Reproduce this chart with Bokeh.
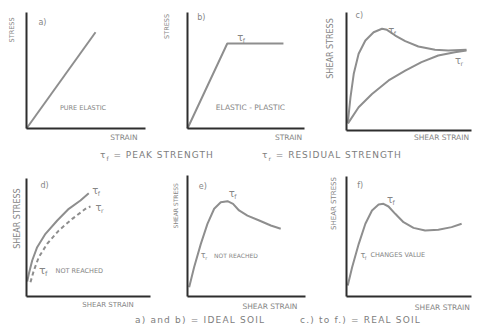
from bokeh.plotting import figure
from bokeh.models import LinearAxis, Range1d, Div, FixedTicker
from bokeh.layouts import row, column
from bokeh.embed import file_html
from bokeh.resources import INLINE
from bokeh.core.properties import value
import math

FONT = "DejaVu Sans"
LINE = "#8e8e8e"
AXIS = "#2e2e2e"
TEXT = "#858585"

# ---------------- data (strain, stress in arbitrary units, axes 0..10) ----------------
a_strain = [0.0, 5.8]
a_stress = [0.0, 8.3]

b_strain = [0.0, 3.4, 8.2]
b_stress = [0.0, 7.33, 7.33]

c_peak_strain = [0.1, 0.32, 0.58, 0.97, 1.51, 2.17, 2.84, 3.24, 3.9, 4.7, 5.75, 7.08, 8.14, 9.6]
c_peak_stress = [0.6, 2.82, 4.8, 6.5, 7.63, 8.33, 8.62, 8.53, 8.05, 7.57, 7.12, 6.84, 6.78, 6.84]
c_res_strain = [0.12, 0.97, 2.04, 3.37, 4.7, 6.0, 7.34, 8.66, 9.6]
c_res_stress = [0.6, 1.97, 3.1, 4.24, 5.08, 5.79, 6.36, 6.64, 6.78]

d_peak_strain = [0.06, 0.19, 0.46, 0.86, 1.53, 2.48, 3.41, 4.35, 5.02]
d_peak_stress = [1.27, 1.92, 3.05, 4.18, 5.31, 6.44, 7.43, 8.14, 8.75]
d_res_strain = [0.32, 0.59, 0.99, 1.67, 2.6, 3.69, 4.76, 5.16]
d_res_stress = [1.21, 2.2, 3.33, 4.47, 5.59, 6.58, 7.43, 7.63]

e_strain = [0.14, 0.56, 1.13, 1.69, 2.26, 2.82, 3.39, 3.86, 4.37, 5.08, 6.08, 7.06, 7.9]
e_stress = [0.77, 2.42, 4.35, 6.0, 7.25, 7.79, 7.88, 7.66, 7.11, 6.69, 6.28, 5.87, 5.6]

f_strain = [0.1, 0.45, 0.98, 1.51, 2.04, 2.57, 2.96, 3.36, 3.9, 4.56, 5.36, 6.29, 7.35, 8.41, 9.21]
f_stress = [0.92, 2.44, 4.39, 6.06, 7.17, 7.67, 7.72, 7.5, 6.89, 6.19, 5.72, 5.5, 5.56, 5.78, 6.06]


def panel(L, R, T, B, ox, oy, xe, yt):
    sx = (xe - ox) / 10.0
    sy = (oy - yt) / 10.0
    p = figure(width=R - L, height=B - T,
               x_range=Range1d(-(ox - L) / sx, (R - ox) / sx),
               y_range=Range1d(-(B - oy) / sy, (oy - T) / sy),
               output_backend="svg", toolbar_location=None,
               x_axis_type=None, y_axis_type=None, min_border=0,
               outline_line_color=None)
    for side in ("below", "left"):
        ax = LinearAxis(fixed_location=0, bounds=(0, 10), ticker=FixedTicker(ticks=[]),
                        axis_line_color=AXIS, axis_line_width=2,
                        major_tick_line_color=None, minor_tick_line_color=None,
                        major_label_text_font_size="0px", major_label_standoff=0)
        p.add_layout(ax, side)
    return p


def txt(p, x, y, s, size=8, align="left", angle=0.0):
    p.text(x=[x], y=[y], text=[s], text_font=value(FONT), text_font_size=f"{size}px",
           text_color=TEXT, text_align=align, text_baseline="middle", angle=angle)


def tau(p, x, y, sub, size=10):
    p.text(x=[x], y=[y], text=["τ"], text_font=value(FONT), text_font_size=f"{size}px",
           text_color=TEXT, text_align="left", text_baseline="middle")
    p.text(x=[x], y=[y], text=[sub], text_font=value(FONT),
           text_font_size=f"{size * 0.62:.1f}px", x_offset=size * 0.55, y_offset=size * 0.3,
           text_color=TEXT, text_align="left", text_baseline="middle")


UP = math.pi / 2

# ---- a) ----
pa = panel(0, 160, 0, 148, 26, 128, 145, 12)
pa.line(a_strain, a_stress, line_color=LINE, line_width=2)
txt(pa, 1.0, 9.16, "a)", 8)
txt(pa, 4.75, 1.8, "PURE ELASTIC", 6.5, "center")
txt(pa, 9.33, -0.75, "STRAIN", 7.5, "right")
txt(pa, -1.2, 8.5, "STRESS", 6.5, "center", UP)

# ---- b) ----
pb = panel(160, 318, 0, 148, 187, 128, 304, 12)
pb.line(b_strain, b_stress, line_color=LINE, line_width=2)
txt(pb, 0.83, 9.6, "b)", 8)
tau(pb, 4.25, 7.87, "f")
txt(pb, 5.38, 1.8, "ELASTIC - PLASTIC", 7.5, "center")
txt(pb, 9.8, -0.75, "STRAIN", 7.5, "right")
txt(pb, -1.73, 8.8, "STRESS", 6.5, "center", UP)

# ---- c) ----
pc = panel(318, 474, 0, 148, 346, 130, 471, 12)
pc.line(c_peak_strain, c_peak_stress, line_color=LINE, line_width=2)
pc.line(c_res_strain, c_res_stress, line_color=LINE, line_width=2)
txt(pc, 0.72, 9.75, "c)", 8)
tau(pc, 3.34, 8.47, "f")
tau(pc, 8.67, 5.93, "r")
txt(pc, 9.8, -0.62, "SHEAR STRAIN", 7.5, "right")
txt(pc, -1.27, 6.95, "SHEAR STRESS", 8, "center", UP)

# ---- d) ----
pd = panel(0, 160, 166, 313, 26, 296, 150, 178)
pd.line(d_peak_strain, d_peak_stress, line_color=LINE, line_width=2)
pd.line(d_res_strain, d_res_stress, line_color=LINE, line_width=2, line_dash="4 3")
txt(pd, 1.13, 9.4, "d)", 8)
tau(pd, 5.3, 9.0, "f")
tau(pd, 5.56, 7.57, "r")
tau(pd, 1.0, 2.2, "f", 11)
txt(pd, 2.34, 2.2, "NOT REACHED", 6.5)
txt(pd, 8.65, -0.76, "SHEAR STRAIN", 7, "right")
txt(pd, -0.75, 6.6, "SHEAR STRESS", 8, "center", UP)

# ---- e) ----
pe = panel(160, 318, 166, 313, 187, 296, 305, 175)
pe.line(e_strain, e_stress, line_color=LINE, line_width=2)
txt(pe, 0.96, 9.1, "e)", 8)
tau(pe, 3.5, 8.49, "f")
tau(pe, 1.13, 3.39, "r", 8)
txt(pe, 2.25, 3.39, "NOT REACHED", 6)
txt(pe, 9.32, -0.83, "SHEAR STRAIN", 7.5, "right")
txt(pe, -0.99, 7.5, "SHEAR STRESS", 6, "center", UP)

# ---- f) ----
pf = panel(318, 474, 166, 313, 346, 296, 471, 176)
pf.line(f_strain, f_stress, line_color=LINE, line_width=2)
txt(pf, 0.85, 9.25, "f)", 8)
tau(pf, 3.24, 8.06, "f")
tau(pf, 1.11, 3.42, "f", 8)
txt(pf, 1.91, 3.42, "CHANGES VALUE", 6.5)
txt(pf, 9.87, -0.89, "SHEAR STRAIN", 7.5, "right")
txt(pf, -1.01, 7.75, "SHEAR STRESS", 7, "center", UP)

CAP = ("position:relative;width:474px;height:{h}px;font-family:'DejaVu Sans';"
       "font-size:9px;color:#7d7d7d;letter-spacing:{ls}px;white-space:nowrap;")
cap1 = Div(width=474, height=18, margin=0, text=(
    f'<div style="{CAP.format(h=18, ls=1.0)}">'
    '<span style="position:absolute;left:100px;top:1px">τ<sub style="font-size:6px">f</sub> = PEAK STRENGTH</span>'
    '<span style="position:absolute;left:262px;top:1px">τ<sub style="font-size:6px">r</sub> = RESIDUAL STRENGTH</span>'
    '</div>'))
cap2 = Div(width=474, height=14, margin=0, text=(
    f'<div style="{CAP.format(h=14, ls=1.2)}">'
    '<span style="position:absolute;left:135px;top:1px">a) and b) = IDEAL SOIL</span>'
    '<span style="position:absolute;left:300px;top:1px">c.) to f.) = REAL SOIL</span>'
    '</div>'))

layout = column(row(pa, pb, pc), cap1, row(pd, pe, pf), cap2)

open("out.html", "w").write(file_html(layout, INLINE))
